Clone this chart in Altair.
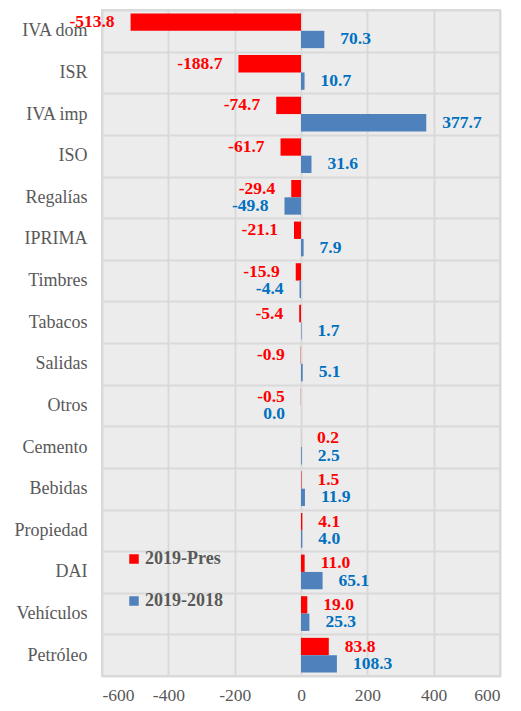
import altair as alt
import pandas as pd

categories = ["IVA dom", "ISR", "IVA imp", "ISO", "Regalías", "IPRIMA", "Timbres",
              "Tabacos", "Salidas", "Otros", "Cemento", "Bebidas", "Propiedad",
              "DAI", "Vehículos", "Petróleo"]
pres = [-513.8, -188.7, -74.7, -61.7, -29.4, -21.1, -15.9, -5.4, -0.9, -0.5,
        0.2, 1.5, 4.1, 11.0, 19.0, 83.8]
diff = [70.3, 10.7, 377.7, 31.6, -49.8, 7.9, -4.4, 1.7, 5.1, 0.0,
        2.5, 11.9, 4.0, 65.1, 25.3, 108.3]
series = ["2019-Pres", "2019-2018"]
x_ticks = [-600, -400, -200, 0, 200, 400, 600]

rows = []
for c, a, b in zip(categories, pres, diff):
    rows.append({"cat": c, "serie": series[0], "v": a})
    rows.append({"cat": c, "serie": series[1], "v": b})
df = pd.DataFrame(rows)

FONT = "Liberation Serif"
GRID = "#d9d9d9"

y = alt.Y("cat:N", sort=categories, title=None,
          scale=alt.Scale(paddingInner=0, paddingOuter=0),
          axis=alt.Axis(labelFont=FONT, labelFontSize=18, labelColor="#595959",
                        labelPadding=15, ticks=False, domain=False, grid=True,
                        tickBand="extent", gridColor=GRID, gridWidth=2))
yoff = alt.YOffset("serie:N", sort=series,
                   scale=alt.Scale(paddingInner=0, paddingOuter=0.2))
x = alt.X("v:Q", title=None, scale=alt.Scale(domain=[-600, 600], nice=False),
          axis=alt.Axis(values=x_ticks, labelExpr="datum.value + ''",
                        labelFont=FONT, labelFontSize=17.5, labelColor="#595959",
                        labelPadding=10, ticks=False, domain=False, grid=True,
                        gridColor=GRID, gridWidth=2))

base = alt.Chart(df)

bars = base.mark_bar(cornerRadius=0).encode(
    x=x, y=y, yOffset=yoff,
    color=alt.Color("serie:N", sort=series,
                    scale=alt.Scale(domain=series, range=["#FF0000", "#4F81BD"]),
                    legend=alt.Legend(title=None, orient="none", legendX=23, legendY=540,
                                      symbolType="square", symbolSize=90,
                                      symbolStrokeWidth=0, labelFont=FONT,
                                      labelFontSize=18, labelFontWeight="bold",
                                      labelColor="#595959", rowPadding=24,
                                      labelOffset=2, padding=0)),
)

txt_fill = alt.Fill("serie:N", sort=series,
                    scale=alt.Scale(domain=series, range=["#FF0000", "#0070C0"]),
                    legend=None)

label_calc = "replace(format(datum.v, '.1f'), '\u2212', '-')"

left = base.transform_filter("datum.v <= 0").transform_calculate(lab=label_calc).mark_text(
    align="right", baseline="middle", dx=-16, font=FONT, fontSize=17.5, fontWeight="bold"
).encode(x="v:Q", y=alt.Y("cat:N", sort=categories), yOffset=yoff, fill=txt_fill, text="lab:N")

right = base.transform_filter("datum.v > 0").transform_calculate(lab=label_calc).mark_text(
    align="left", baseline="middle", dx=16, font=FONT, fontSize=17.5, fontWeight="bold"
).encode(x="v:Q", y=alt.Y("cat:N", sort=categories), yOffset=yoff, fill=txt_fill, text="lab:N")

chart = alt.layer(bars, left, right).properties(
    width=398, height=666,
    autosize=alt.AutoSizeParams(type="none"),
    padding={"left": 94, "top": 2, "right": 13, "bottom": 27},
).configure_view(fill="#ececec", stroke=GRID, strokeWidth=2)

chart.save("out.html", embed_options={"renderer": "svg", "actions": False})
